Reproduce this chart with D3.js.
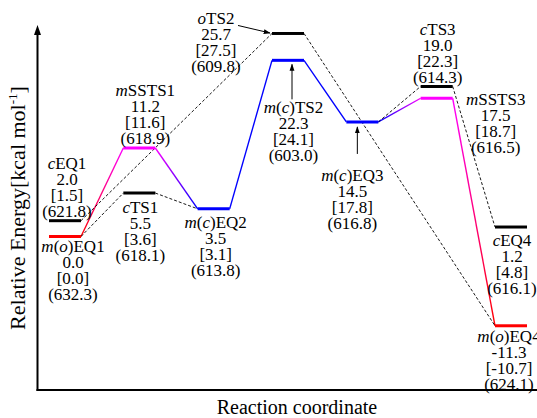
<!DOCTYPE html>
<html><head><meta charset="utf-8">
<script src="https://cdn.jsdelivr.net/npm/d3@7"></script>
<style>body{margin:0;background:#fff} text{font-family:"Liberation Serif";}</style>
</head><body><svg id="c" width="537" height="418"></svg>
<script>
// ---- data ----
const names   = ["m(o)EQ1","cEQ1","mSSTS1","cTS1","m(c)EQ2","oTS2","m(c)TS2","m(c)EQ3","cTS3","mSSTS3","cEQ4","m(o)EQ4"];
const stage   = [0,0,1,1,2,3,3,4,5,5,6,6];
const energy  = [0.0,2.0,11.2,5.5,3.5,25.7,22.3,14.5,19.0,17.5,1.2,-11.3];
const bracket = ["0.0","1.5","11.6","3.6","3.1","27.5","24.1","17.8","22.3","18.7","4.8","-10.7"];
const paren   = ["632.3","621.8","618.9","618.1","613.8","609.8","603.0","616.8","614.3","616.5","616.1","624.1"];
const group   = ["o","c","ss","c","m","c","m","m","c","ss","c","o"];
const solidLinks  = [[0,2],[2,4],[4,6],[6,7],[7,9],[9,11]];
const dashedLinks = [[0,3],[3,4],[1,5],[5,11],[7,8],[8,10]];
const xTitle = "Reaction coordinate";
const yTitle = "Relative Energy[kcal mol";

// ---- style / layout ----
const color = {o:"#ff0000", c:"#000000", ss:"#ff00ff", m:"#0000ff"};
const lineH = 16, FS = 17, halfW = 16;
// [dx, dy of anchor line, anchor line index (0 = first line below, 3 = last line above)]
const labelOff = [[8,10,0],[2,-10,3],[6,-10,3],[1,14,0],[2,13,0],[-72,33,3],[5.5,47,0],[-10,53,0],[1,-9,3],[59,1,0],[1,13,0],[-2,10,0]];
const arrows = [ {i:5, from:[-50,-8], to:[-18,-0.5]}, {i:6, from:[4,39], to:[4,4]}, {i:7, from:[-5,32], to:[-5,5]} ];
const FONT = "'Liberation Serif', serif";

const svg = d3.select("#c");
const x = d3.scaleLinear().domain([0,6]).range([65,511]);
const y = d3.scaleLinear().domain([0,25]).range([236.5,39]);

const defs = svg.append("defs");
defs.append("marker").attr("id","ah").attr("viewBox","0 0 10 10").attr("refX",9).attr("refY",5)
  .attr("markerWidth",7).attr("markerHeight",7).attr("orient","auto-start-reverse")
  .append("path").attr("d","M0,1.5L10,5L0,8.5z").attr("fill","#000");

// axes
const ax = 37.5, ay = 390;
svg.append("line").attr("x1",ax).attr("x2",ax).attr("y1",ay+1).attr("y2",34).attr("stroke","#000").attr("stroke-width",2);
svg.append("path").attr("d",`M${ax-3.5},35L${ax},25L${ax+3.5},35z`).attr("fill","#000");
svg.append("line").attr("x1",ax-1).attr("x2",537).attr("y1",ay).attr("y2",ay).attr("stroke","#000").attr("stroke-width",2);

svg.append("text").attr("x",297).attr("y",414).attr("text-anchor","middle")
  .attr("font-family",FONT).attr("font-size",20).text(xTitle);
const yt = svg.append("text").attr("transform","translate(25,208) rotate(-90)").attr("text-anchor","middle")
  .attr("font-family",FONT).attr("font-size",22);
yt.append("tspan").text(yTitle);
yt.append("tspan").attr("dy",-8).attr("font-size",13).text("-1");
yt.append("tspan").attr("dy",8).text("]");

const L = i => x(stage[i]) - halfW, R = i => x(stage[i]) + halfW;

// solid connectors with gradients
solidLinks.forEach(([a,b],k)=>{
  const g = defs.append("linearGradient").attr("id","g"+k).attr("gradientUnits","userSpaceOnUse")
    .attr("x1",R(a)).attr("y1",y(energy[a])).attr("x2",L(b)).attr("y2",y(energy[b]));
  g.append("stop").attr("offset","0%").attr("stop-color",color[group[a]]);
  g.append("stop").attr("offset","100%").attr("stop-color",color[group[b]]);
  svg.append("line").attr("x1",R(a)).attr("y1",y(energy[a])).attr("x2",L(b)).attr("y2",y(energy[b]))
    .attr("stroke",`url(#g${k})`).attr("stroke-width",1.4);
});
// dashed connectors
svg.selectAll("line.d").data(dashedLinks).join("line").attr("class","d")
  .attr("x1",d=>R(d[0])).attr("y1",d=>y(energy[d[0]])).attr("x2",d=>L(d[1])).attr("y2",d=>y(energy[d[1]]))
  .attr("stroke","#000").attr("stroke-width",0.9).attr("stroke-dasharray","3,2");

// levels
svg.selectAll("line.lv").data(d3.range(names.length)).join("line").attr("class","lv")
  .attr("x1",L).attr("x2",R).attr("y1",i=>y(energy[i])).attr("y2",i=>y(energy[i]))
  .attr("stroke",i=>color[group[i]]).attr("stroke-width",3);

// labels: one multi-line text per state
names.forEach((n,i)=>{
  const [dx,dy,anchor] = labelOff[i];
  const cx = x(stage[i]) + dx, cy0 = y(energy[i]) + dy - anchor*lineH;
  const t = svg.append("text").attr("x",cx).attr("y",cy0 + 5.8).attr("text-anchor","middle")
    .attr("font-family",FONT).attr("font-size",FS);
  const first = t.append("tspan").attr("x",cx).attr("dy",0);
  const m = n.match(/^([a-z()]*)(.*)$/);
  for (const ch of m[1]) first.append("tspan").attr("font-style", /[a-z]/.test(ch)?"italic":"normal").text(ch);
  first.append("tspan").text(m[2]);
  [energy[i].toFixed(1), "["+bracket[i]+"]", "("+paren[i]+")"].forEach(s=>{
    t.append("tspan").attr("x",cx).attr("dy",lineH).text(s);
  });
});

// pointer arrows
arrows.forEach(a=>{
  const bx = x(stage[a.i]), by = y(energy[a.i]);
  svg.append("line").attr("x1",bx+a.from[0]).attr("y1",by+a.from[1]).attr("x2",bx+a.to[0]).attr("y2",by+a.to[1])
    .attr("stroke","#000").attr("stroke-width",1).attr("marker-end","url(#ah)");
});
</script></body></html>
